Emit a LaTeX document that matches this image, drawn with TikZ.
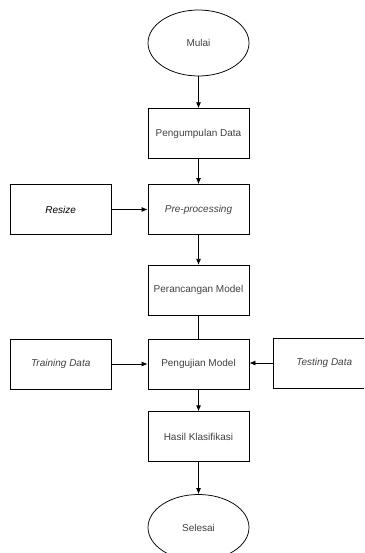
\documentclass[tikz,border=0pt]{standalone}
\usepackage{fontspec}
\setsansfont{Liberation Sans}
\usetikzlibrary{arrows.meta,positioning,shapes}
\tikzset{
  basic/.style    = {draw, line width=0.75pt, inner sep=2pt, align=center,
                     font=\sffamily\fontsize{10}{12}\selectfont, text=black!75},
  process/.style  = {basic, rectangle, minimum width=101pt, minimum height=50pt},
  terminal/.style = {basic, ellipse, minimum width=101pt, minimum height=66pt},
  input/.style    = {process, font=\sffamily\itshape\fontsize{10}{12}\selectfont}
}

\begin{document}
\begin{tikzpicture}[
  flow/.style={->,draw,line width=0.75pt},
  >={Latex[length=6pt,width=5pt]}]

\useasboundingbox (0,0) rectangle (364pt,-553pt);
\clip (0,0) rectangle (364pt,-553pt);

% main column, top to bottom
\node[terminal] (mulai) at (198.5pt,-43pt) {Mulai};
\node[process, below=32pt of mulai] (kumpul) {Pengumpulan Data};
\node[process, below=25pt of kumpul] (prepro) {\textit{Pre-processing}};
\node[process, below=30pt of prepro] (rancang) {Perancangan Model};
\node[process, below=23pt of rancang] (uji) {Pengujian Model};
\node[process, below=22pt of uji] (hasil) {Hasil Klasifikasi};
\node[terminal, below=32pt of hasil] (selesai) {Selesai};

% side inputs
\node[input, left=36pt of prepro, text=black] (resize) {Resize};
\node[input, left=36pt of uji] (train) {Training Data};
\node[input, right=24pt of uji, yshift=1pt] (test) {Testing Data};

% connectors
\draw[flow] (mulai) -- (kumpul);
\draw[flow] (kumpul) -- (prepro);
\draw[flow] (resize) -- (prepro);
\draw[flow] (prepro) -- (rancang);
\draw[line width=0.75pt] (rancang) -- (uji);
\draw[flow] (train) -- (uji);
\draw[flow] (test.west) -- (uji.east |- test.west);
\draw[flow] (uji) -- (hasil);
\draw[flow] (hasil) -- (selesai);
\end{tikzpicture}
\end{document}
